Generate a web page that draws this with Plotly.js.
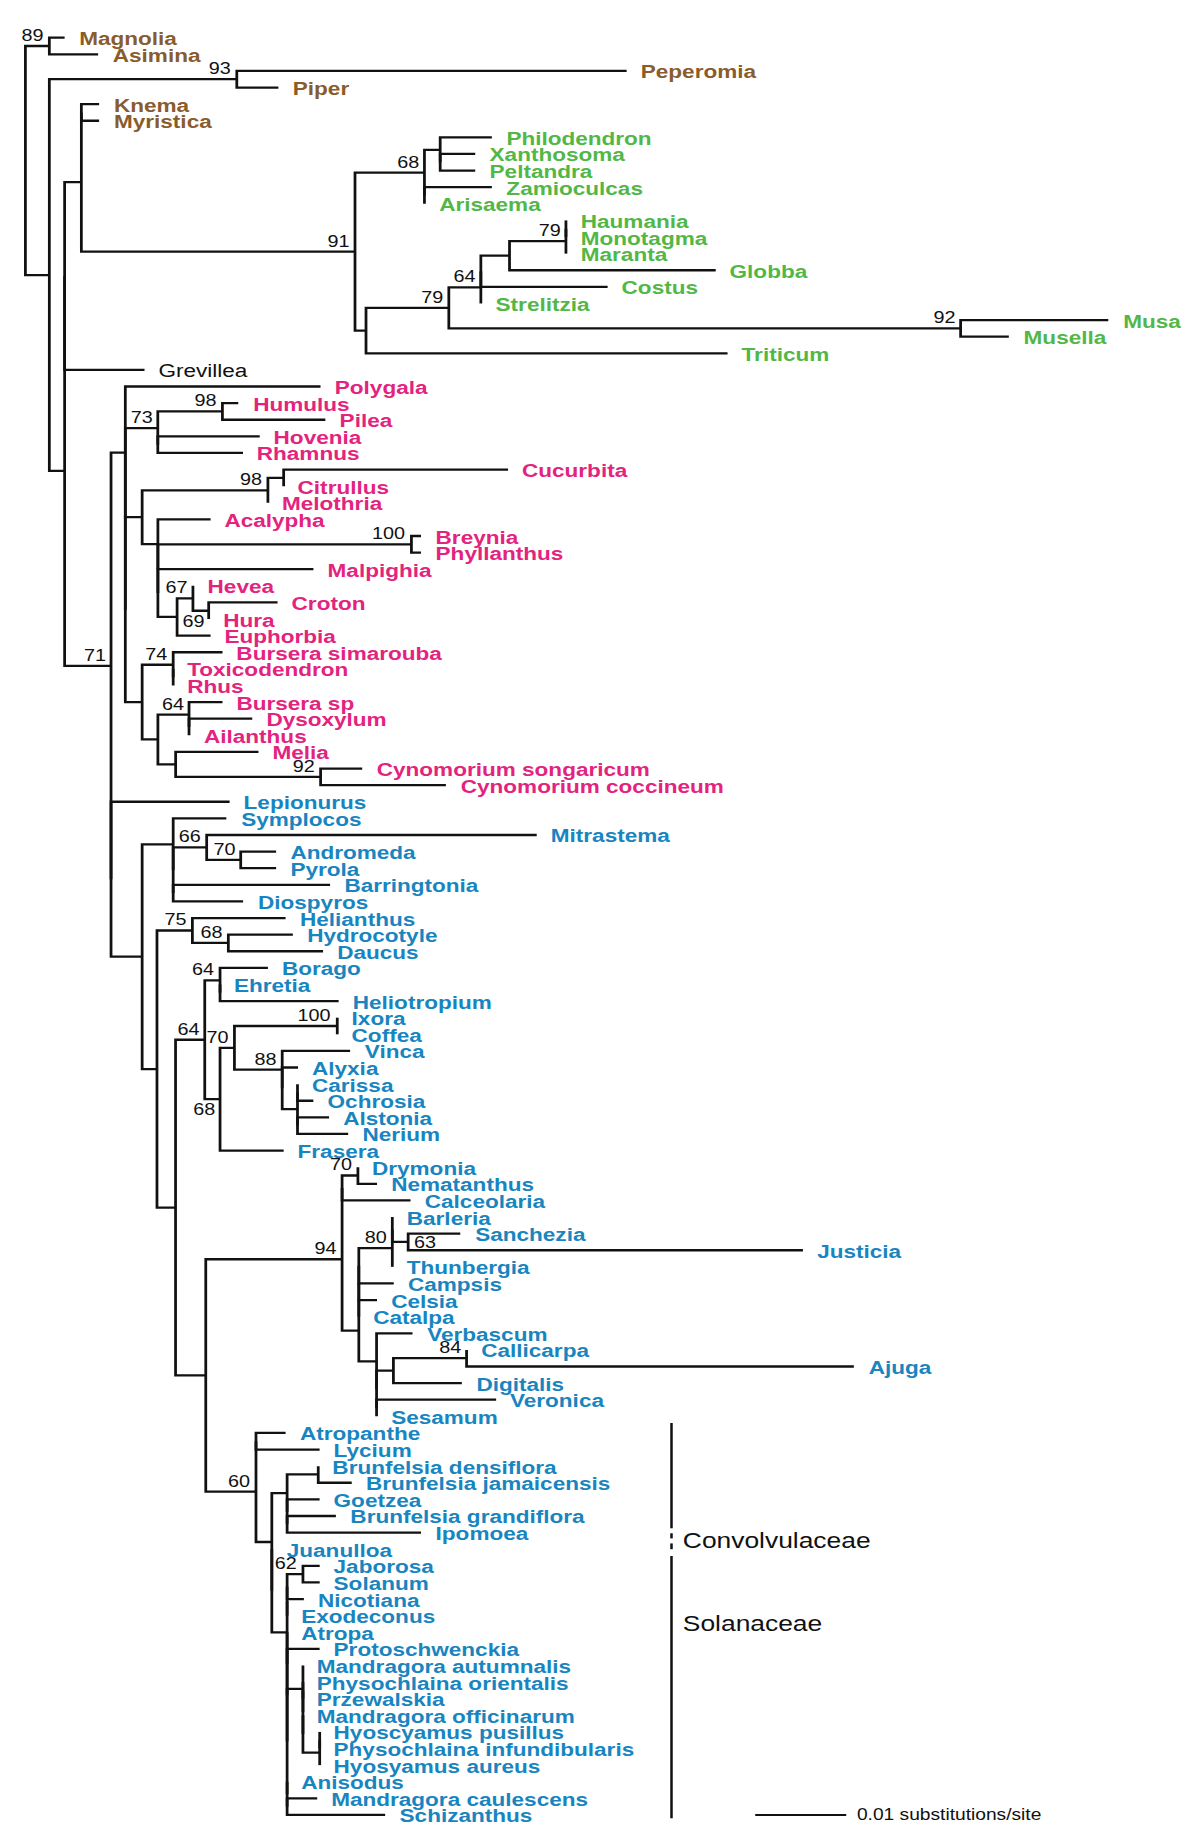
<!DOCTYPE html>
<html>
<head>
<meta charset="utf-8">
<script src="https://cdn.plot.ly/plotly-3.0.1.min.js"></script>
<style>
html,body{margin:0;padding:0;background:#ffffff;overflow:hidden;}
#chart{width:1000px;height:1847px;transform:scaleX(1.2);transform-origin:0 0;}
</style>
</head>
<body>
<div id="chart"></div>
<script>
// ------------------------------------------------------------------
// DATA (branch lengths in substitutions/site;
// internal node labels are bootstrap support values)
// ------------------------------------------------------------------
const magnoliaAsimina = "(Magnolia:0.00168,Asimina:0.00536)89";
const piperales = "(Peperomia:0.04284,Piper:0.00457)93";
const myristicaceae = "(Knema:0.00195,Myristica:0.00195)";
const araceae = "((Philodendron:0.00568,(Xanthosoma:0.00385,Peltandra:0.00385):0):0.00173,(Zamioculcas:0.00741,Arisaema:0):0)68";
const zingiberales = "((((((Haumania:0,Monotagma:0):0,Maranta:0)79:0.0062,Globba:0.02266):0.00315,Costus:0.01393):0,Strelitzia:0)64:0.00352,(Musa:0.01623,Musella:0.0053)92:0.05624)79";
const rosales = "((Humulus:0.00174,Pilea:0.01131)98:0.0071,(Hovenia:0.0112,Rhamnus:0.00936):0)73";
const cucurbitaceae = "((Cucurbita:0.02466,Citrullus:0):0.00173,Melothria:0)98";
const malpighiales = "(Acalypha:0.00579,((Breynia:0.00105,Phyllanthus:0.00105)100:0.02786,(Malpighia:0.01709,((Hevea:0,(Croton:0.00757,Hura:0)69:0.00173)67:0.00174,Euphorbia:0.00368):0.00211):0):0)";
const sapindales = "((Bursera_simarouba:0.00542,(Toxicodendron:0,Rhus:0):0)74:0.00341,((Bursera_sp:0.00368,(Dysoxylum:0.00695,Ailanthus:0):0)64:0.00342,(Melia:0.0091,(Cynomorium_songaricum:0.00457,Cynomorium_coccineum:0.01377)92:0.01593):0.00195):0.00173)";
const ericales = "(Symplocos:0.00584,((Mitrastema:0.03627,(Andromeda:0.00389,Pyrola:0.00389)70:0.00374)66:0.00368,(Barringtonia:0.01724,Diospyros:0.00768):0):0)";
const apiales = "(Helianthus:0.01024,(Hydrocotyle:0.00709,Daucus:0.01041)68:0.00395)75";
const boraginales = "(Borago:0.00526,(Ehretia:0,Heliotropium:0.01303):0)64";
const gentianales = "(((Ixora:0,Coffea:0)100:0.0113,(Vinca:0.00746,(Alyxia:0.00174,((Carissa:0,Ochrosia:0.00174):0,(Alstonia:0.00347,Nerium:0.00557):0):0.00168):0)88:0.00525)70:0.00158,Frasera:0.00699)68";
const gesneriaceaeCalceolaria = "((Drymonia:0,Nematanthus:0.0021)70:0.00174,Calceolaria:0.00752)";
const acanthaceae = "((Barleria:0,(Sanchezia:0.00573,Justicia:0.04338)63:0.00174):0,Thunbergia:0)80";
const lamialesLower = "(Verbascum:0.00395,(((Callicarpa:0,Ajuga:0.04256)84:0.00804,Digitalis:0.00752):0.00185,(Veronica:0.01314,Sesamum:0):0):0)";
const convolvulaceaeBrunfelsia = "((Brunfelsia_densiflora:0,Brunfelsia_jamaicensis:0.00368):0.00342,(Goetzea:0.00357,(Brunfelsia_grandiflora:0.00536,Ipomoea:0.01471):0):0)";
const hyoscyameae = "(Mandragora_autumnalis:0,((Physochlaina_orientalis:0,Przewalskia:0):0,(Mandragora_officinarum:0,((Hyoscyamus_pusillus:0,Physochlaina_infundibularis:0):0,Hyosyamus_aureus:0):0.00184):0):0)";
const solanaceaeCore = "((((Jaborosa:0.00184,Solanum:0.00184)62:0.00174,Nicotiana:0.00184):0,Exodeconus:0):0,(Atropa:0,(Protoschwenckia:0.00357,(" + hyoscyameae + ":0.00174,(Anisodus:0,(Mandragora_caulescens:0.00331,Schizanthus:0.01077):0):0):0):0):0)";

// leaf colour groups, in leaf order (counts of consecutive leaves)
const leafGroupNames = ["magnoliids", "monocots", "Grevillea", "rosids", "asterids"];
const leafGroupSizes = [6, 14, 1, 25, 62];
const groupColors = ["#8a5c2c", "#52b747", "#111111", "#e3237e", "#1885c0"];

const familyLabels = ["Convolvulaceae", "Solanaceae"];
const scaleBarValue = 0.01;
const scaleBarText = "0.01 substitutions/site";

// ------------------------------------------------------------------
// assemble tree
// ------------------------------------------------------------------
const monocots = `(${araceae}:0.00763,(${zingiberales}:0.0091,Triticum:0.03973):0.00121)91`;
const rosids = `(Polygala:0.02145,(${rosales}:0.00357,((${cucurbitaceae}:0.01382,${malpighiales}:0.00173):0.00185,${sapindales}:0.00185):0):0)`;
const lamiales = `(${gesneriaceaeCalceolaria}:0,((((${acanthaceae}:0.00368,Campsis:0.00384):0,Celsia:0.002):0,Catalpa:0):0,${lamialesLower}:0.00195):0.00184)94`;
const solanales = `((Atropanthe:0.00325,Lycium:0.00699):0,(${convolvulaceaeBrunfelsia}:0.00168,(Juanulloa:0,${solanaceaeCore}:0.00168):0):0.00174)60`;
const asterids = `(${ericales}:0.00341,(${apiales}:0.00389,((${boraginales}:0.00168,${gentianales}:0.00168)64:0.00321,(${lamiales}:0.01498,${solanales}:0.00552):0.00332):0.00204):0.00163)`;
const eudicots = `(${rosids}:0.00157,(Lepionurus:0.01303,${asterids}:0.00342):0)71`;
const treeNewick = `(${magnoliaAsimina}:0.00263,(${piperales}:0.0206,(((${myristicaceae}:0,${monocots}:0.03007):0.00184,Grevillea:0.00878):0,${eudicots}:0.0051):0.00168):0.00263);`;

function parseNewick(str) {
  const s = str.replace(/\s+/g, "");
  let i = 0;
  function node() {
    const n = {children: [], name: "", len: 0};
    if (s[i] === "(") {
      i++;
      n.children.push(node());
      while (s[i] === ",") { i++; n.children.push(node()); }
      i++; // ')'
    }
    let name = "";
    while (i < s.length && ",:();".indexOf(s[i]) < 0) name += s[i++];
    n.name = name;
    if (s[i] === ":") {
      i++;
      let num = "";
      while (i < s.length && ",();".indexOf(s[i]) < 0) num += s[i++];
      n.len = parseFloat(num);
    }
    return n;
  }
  return node();
}

const root = parseNewick(treeNewick);
root.len = 0;
const leaves = [], internals = [];
(function lay(n, px) {
  n.x = px + n.len;
  if (!n.children.length) { n.y = leaves.length; leaves.push(n); }
  else {
    n.children.forEach(c => lay(c, n.x));
    n.y = (n.children[0].y + n.children[n.children.length - 1].y) / 2;
    internals.push(n);
  }
})(root, 0);

// branch path
const lx = [], ly = [];
(function draw(n) {
  if (!n.children.length) return;
  const f = n.children[0], l = n.children[n.children.length - 1];
  lx.push(f.x, n.x, n.x, l.x, null); ly.push(f.y, f.y, l.y, l.y, null);
  n.children.slice(1, -1).forEach(c => { lx.push(n.x, c.x, null); ly.push(c.y, c.y, null); });
  n.children.forEach(draw);
})(root);

const FONT = '"Liberation Sans", Arial, Helvetica, sans-serif';
const annotations = [];

// leaf labels
const groupOfLeaf = [];
leafGroupNames.forEach((g, k) => { for (let j = 0; j < leafGroupSizes[k]; j++) groupOfLeaf.push(k); });
leaves.forEach((lf, k) => {
  const g = groupOfLeaf[k];
  const name = lf.name.replace(/_/g, " ");
  annotations.push({
    x: lf.x, y: lf.y, xref: "x", yref: "y", showarrow: false,
    text: g === 2 ? name : "<b>" + name + "</b>",
    xanchor: "left", yanchor: "middle", xshift: 10, yshift: -1,
    font: {family: FONT, size: 18.8, color: groupColors[g]}
  });
});

// support values
function firstLeaf(n) { return n.children.length ? firstLeaf(n.children[0]) : n; }
function lastLeaf(n) { return n.children.length ? lastLeaf(n.children[n.children.length - 1]) : n; }
const supportPlacement = {"Croton|Hura": "below", "Ixora|Frasera": "below", "Sanchezia|Justicia": "right"};
internals.forEach(n => {
  if (!/^\d+$/.test(n.name)) return;
  const key = firstLeaf(n).name + "|" + lastLeaf(n).name;
  const p = supportPlacement[key] || "above";
  const a = {x: n.x, y: n.y, xref: "x", yref: "y", showarrow: false, text: n.name,
    font: {family: FONT, size: 16.5, color: "#111111"}};
  if (p === "above") { a.xanchor = "right"; a.yanchor = "bottom"; a.xshift = -3; a.yshift = 0; }
  else if (p === "below") { a.xanchor = "right"; a.yanchor = "top"; a.xshift = -2; a.yshift = 1; }
  else { a.xanchor = "left"; a.yanchor = "middle"; a.xshift = 3; }
  annotations.push(a);
});

// family bracket
const rowOf = nm => leaves.find(l => l.name === nm).y;
const bracketX = 0.071;
const brTop = rowOf("Atropanthe") - 0.6, brBot = rowOf("Schizanthus") + 0.2;
const brMid = (rowOf("Ipomoea") + rowOf("Juanulloa")) / 2;
const bx = [bracketX, bracketX, null, bracketX, bracketX, null, bracketX, bracketX, null, bracketX, bracketX];
const by = [brTop, brMid - 0.76, null, brMid - 0.46, brMid - 0.15, null, brMid + 0.15, brMid + 0.5, null, brMid + 0.91, brBot];
annotations.push({x: bracketX, y: brMid - 0.05, xref: "x", yref: "y", showarrow: false, text: familyLabels[0],
  xanchor: "left", yanchor: "middle", xshift: 7, font: {family: FONT, size: 22, color: "#111111"}});
annotations.push({x: bracketX, y: (rowOf("Exodeconus") + rowOf("Atropa")) / 2, xref: "x", yref: "y", showarrow: false, text: familyLabels[1],
  xanchor: "left", yanchor: "middle", xshift: 7, font: {family: FONT, size: 22, color: "#111111"}});

// scale bar
const sbX = 0.0802, sbY = rowOf("Schizanthus");
annotations.push({x: sbX + scaleBarValue, y: sbY, xref: "x", yref: "y", showarrow: false, text: scaleBarText,
  xanchor: "left", yanchor: "middle", xshift: 7, font: {family: FONT, size: 16, color: "#111111"}});

const traces = [
  {x: lx, y: ly, mode: "lines", line: {color: "#111111", width: 2.3}, hoverinfo: "skip", showlegend: false},
  {x: bx, y: by, mode: "lines", line: {color: "#111111", width: 2.1}, hoverinfo: "skip", showlegend: false},
  {x: [sbX, sbX + scaleBarValue], y: [sbY, sbY], mode: "lines", line: {color: "#111111", width: 2.1}, hoverinfo: "skip", showlegend: false}
];

// axis ranges: root at 25.4 px of the 1200 px page, 0.01 subst./site = 91 px; leaf rows 16.61 px apart from 37.7 px
const pxPerUnit = 9100, rootPx = 25.4, pageW = 1200, rowPx = 16.61, row0Px = 37.7, pageH = 1847;
const layout = {
  width: 1000, height: pageH, autosize: false,
  margin: {l: 0, r: 0, t: 0, b: 0, pad: 0},
  paper_bgcolor: "#ffffff", plot_bgcolor: "#ffffff",
  xaxis: {visible: false, range: [-rootPx / pxPerUnit, (pageW - rootPx) / pxPerUnit], fixedrange: true},
  yaxis: {visible: false, range: [(pageH - row0Px) / rowPx, -row0Px / rowPx], fixedrange: true},
  annotations: annotations,
  showlegend: false
};
Plotly.newPlot("chart", traces, layout, {displayModeBar: false, staticPlot: true});
</script>
</body>
</html>
